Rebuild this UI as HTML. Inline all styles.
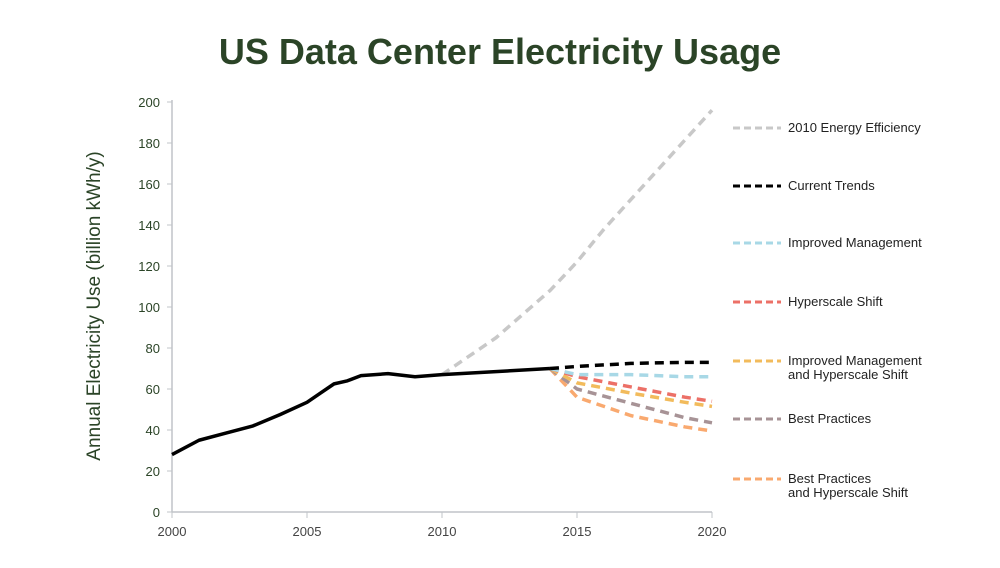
<!DOCTYPE html>
<html><head><meta charset="utf-8"><style>
body{margin:0;background:#fff;font-family:"Liberation Sans",sans-serif}
svg text{font-family:"Liberation Sans",sans-serif}
</style></head><body>
<svg width="1000" height="563" viewBox="0 0 1000 563">
<text x="500" y="64" text-anchor="middle" font-size="36" font-weight="bold" fill="#2b4427">US Data Center Electricity Usage</text>
<text transform="translate(100,306) rotate(-90)" text-anchor="middle" font-size="19" fill="#2b4427">Annual Electricity Use (billion kWh/y)</text>
<g id="axes"></g><g id="series"></g><g id="legend"></g>
</svg>
<script>
const yTicks=[0,20,40,60,80,100,120,140,160,180,200];
const xTicks=[2000,2005,2010,2015,2020];
const histYears=[2000,2001,2002,2003,2004,2005,2005.5,2006,2006.5,2007,2008,2009,2010,2014];
const histVals=[28,35,38.5,42,47.5,53.5,58,62.5,64,66.5,67.5,66,67,70];
const eeYears=[2010,2012,2014,2015,2016,2018,2020];
const eeVals=[67,85,108,122,138,167,196];
const projYears=[2014,2015,2017,2019,2020];
const currentTrends=[70,71,72.5,73,73];
const improvedMgmt=[70,67,67,66,66];
const hyperscale=[70,66,61,56,54];
const imHyperscale=[70,63,58,53.5,51.5];
const bestPractices=[70,60,53,46,43.5];
const bpHyperscale=[70,56,47,41.5,39.5];
const legendLabels=[["2010 Energy Efficiency"],["Current Trends"],["Improved Management"],["Hyperscale Shift"],["Improved Management","and Hyperscale Shift"],["Best Practices"],["Best Practices","and Hyperscale Shift"]];
const colors=["#c8c8c8","#000000","#a8d8e6","#ec7067","#f2bb5c","#a79396","#f9a96f"];
const legendY=[127,185,242,301,360,418,478];
const ns="http://www.w3.org/2000/svg";
const X=y=>172+(y-2000)*27, Y=v=>512-v*2.05;
function mk(t,a,p){const e=document.createElementNS(ns,t);for(const k in a)e.setAttribute(k,a[k]);p.appendChild(e);return e;}
const ax=document.getElementById('axes');
let l=mk('line',{x1:172,y1:Y(200)-2,x2:172,y2:512,stroke:'#c0c4c8','stroke-width':1.5},ax);


l=mk('line',{x1:172,y1:512,x2:712,y2:512,stroke:'#c0c4c8','stroke-width':1.5},ax);


yTicks.forEach(v=>{mk('line',{x1:167,x2:172,y1:Y(v),y2:Y(v),stroke:'#c0c4c8'},ax);
const t=mk('text',{x:160,y:Y(v)+5,'text-anchor':'end','font-size':13,fill:'#2b4427'},ax);t.textContent=v;

});
xTicks.forEach(v=>{mk('line',{x1:X(v),x2:X(v),y1:512,y2:518,stroke:'#c0c4c8'},ax);
const t=mk('text',{x:X(v),y:536,'text-anchor':'middle','font-size':13,fill:'#444'},ax);t.textContent=v;

});
const sg=document.getElementById('series');
function line(xs,vs,c,dash,name){const p=mk('polyline',{points:xs.map((x,i)=>X(x)+','+Y(vs[i])).join(' '),fill:'none',stroke:c,'stroke-width':dash?3.5:3.5,'stroke-dasharray':dash?'9 6':'none','stroke-linejoin':'round'},sg);

}
line(eeYears,eeVals,colors[0],1,'series-2010-energy-efficiency');
line(projYears,bpHyperscale,colors[6],1,'series-best-practices-hyperscale');
line(projYears,bestPractices,colors[5],1,'series-best-practices');
line(projYears,imHyperscale,colors[4],1,'series-improved-management-hyperscale');
line(projYears,hyperscale,colors[3],1,'series-hyperscale-shift');
line(projYears,improvedMgmt,colors[2],1,'series-improved-management');
line(projYears,currentTrends,colors[1],1,'series-current-trends');
line(histYears,histVals,'#000',0,'series-historical');
const lg=document.getElementById('legend');
legendLabels.forEach((lab,i)=>{const g=mk('g',{},lg);


mk('line',{x1:733,x2:781,y1:legendY[i]+1,y2:legendY[i]+1,stroke:colors[i],'stroke-width':3,'stroke-dasharray':'7 4'},g);
lab.forEach((s,j)=>{const t=mk('text',{x:788,y:legendY[i]+5+j*14,'font-size':13,fill:'#222'},g);t.textContent=s;});});
</script>
</body></html>
